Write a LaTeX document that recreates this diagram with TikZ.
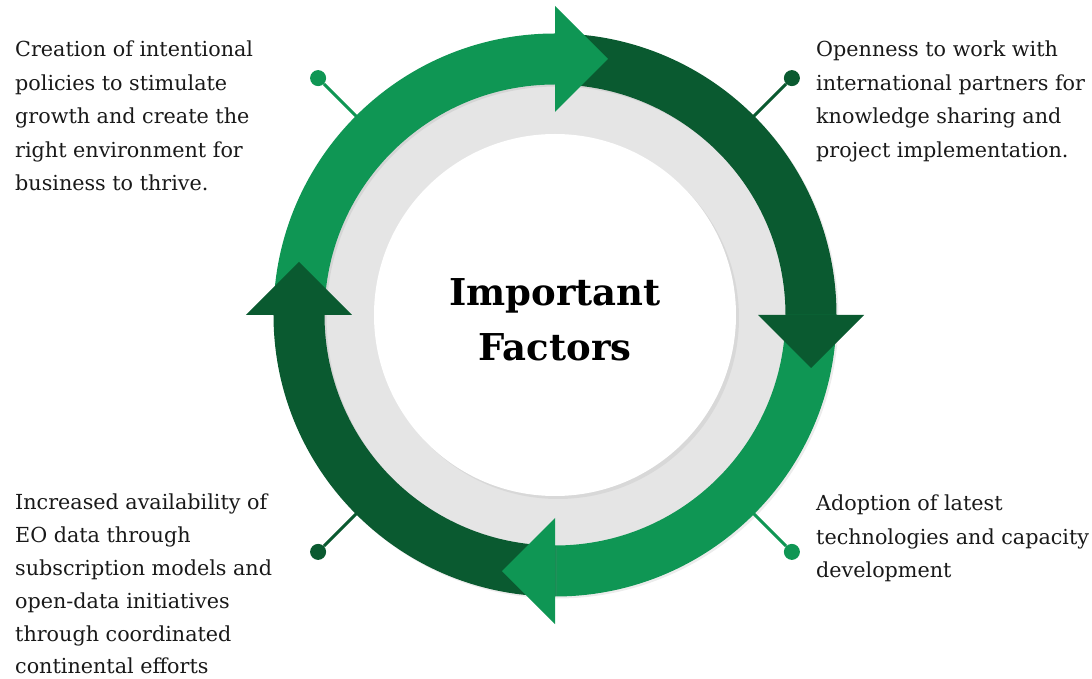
\documentclass[tikz,border=0pt]{standalone}
\usepackage{fontspec}
\setmainfont{DejaVu Serif}
\usetikzlibrary{shadows}

\definecolor{leafgreen}{HTML}{0F9654}
\definecolor{forestgreen}{HTML}{0A5A30}
\definecolor{ringgray}{HTML}{E5E5E5}

\tikzset{
  band/.style={drop shadow={opacity=0.15, shadow xshift=2pt, shadow yshift=-2pt}},
  pin/.style={circle, inner sep=0pt, minimum size=16pt},
  factor/.style={anchor=north west, inner sep=0pt, align=left,
    font=\fontsize{20.7}{33.5}\selectfont, text=black!90}
}

\begin{document}
\begin{tikzpicture}[x=1pt, y=1pt]
  \useasboundingbox (-555,-364) rectangle (537,315);
  % grey ring and white hub
  \fill[ringgray] (0,0) circle[radius=245];
  \fill[white, drop shadow={opacity=0.12, shadow xshift=3pt, shadow yshift=-3pt}] (0,0) circle[radius=181];

  % the four quarter bands, clockwise
  \foreach \a/\c in {180/leafgreen, 90/forestgreen, 0/leafgreen, -90/forestgreen}
    \fill[\c, band] (\a:281.5) arc[start angle=\a, end angle=\a-90, radius=281.5]
      -- (\a-90:230.5) arc[start angle=\a-90, end angle=\a, radius=230.5] -- cycle;
  % arrow heads on top of the next band
  \foreach \e/\c in {90/leafgreen, 0/forestgreen, -90/leafgreen, 180/forestgreen}
    \fill[\c, rotate=\e] (203,0) -- (309,0) -- (256,-53) -- cycle;

  \node[font=\bfseries\fontsize{37}{55}\selectfont, align=center] (title) at (0,-5) {Important\\Factors};

  % pins
  \coordinate (tl edge) at (135:281);
  \node[pin, fill=leafgreen] (tl dot) at (135:335) {};
  \draw[leafgreen, line width=3pt] (tl edge) -- (tl dot);
  \coordinate (tr edge) at (45:281);
  \node[pin, fill=forestgreen] (tr dot) at (45:335) {};
  \draw[forestgreen, line width=3pt] (tr edge) -- (tr dot);
  \coordinate (br edge) at (-45:281);
  \node[pin, fill=leafgreen] (br dot) at (-45:335) {};
  \draw[leafgreen, line width=3pt] (br edge) -- (br dot);
  \coordinate (bl edge) at (-135:281);
  \node[pin, fill=forestgreen] (bl dot) at (-135:335) {};
  \draw[forestgreen, line width=3pt] (bl edge) -- (bl dot);

  % factor texts
  \node[factor] (policies) at (-540,274) {Creation of intentional\\policies to stimulate\\growth and create the\\right environment for\\business to thrive.};
  \node[factor] (partners) at (261,274) {Openness to work with\\international partners for\\knowledge sharing and\\project implementation.};
  \node[factor, font=\fontsize{20.7}{32.8}\selectfont] (data) at (-540,-179) {Increased availability of\\EO data through\\subscription models and\\open-data initiatives\\through coordinated\\continental efforts};
  \node[factor] (tech) at (261,-180) {Adoption of latest\\technologies and capacity\\development};
\end{tikzpicture}
\end{document}
